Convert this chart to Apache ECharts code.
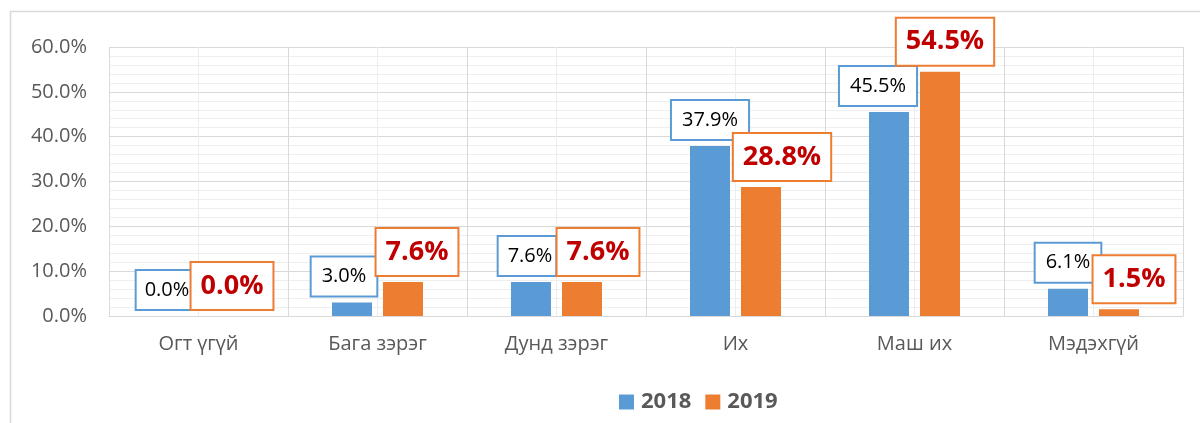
<!DOCTYPE html>
<html>
<head>
<meta charset="utf-8">
<script src="https://cdn.jsdelivr.net/npm/echarts@6/dist/echarts.min.js"></script>
<style>
  html, body { margin: 0; padding: 0; background: #fff; }
  #chart { width: 1200px; height: 423px; }
</style>
</head>
<body>
<div id="chart"></div>
<script>
// ---------- data ----------
const categories = ['Огт үгүй', 'Бага зэрэг', 'Дунд зэрэг', 'Их', 'Маш их', 'Мэдэхгүй'];
const values2018 = [0.0, 3.0, 7.6, 37.9, 45.5, 6.1];
const values2019 = [0.0, 7.6, 7.6, 28.8, 54.5, 1.5];
const yMin = 0, yMax = 60, yStep = 10;

// label nudges (Excel labels were dragged by hand)
const nudge2018 = [-9, -8, -4, 0, -11, 0];
const nudge2019 = [8, 14, 16, 21, 5, 15];
const pad2018 = [[8, 2, 8, 8], null, [8, 3, 8, 9], null, null, null];

const FONT = 'Open Sans';
const BLUE = '#5B9BD5';
const ORANGE = '#ED7D31';

function buildItems(vals, nudges, pads) {
    return vals.map(function(v, i) {
        const label = { offset: [nudges[i], 0] };
        if (pads && pads[i]) label.padding = pads[i];
        return { value: v, label: label };
    });
}

const chart = echarts.init(document.getElementById('chart'));

const option = {
    animation: false,
    backgroundColor: '#fff',
    textStyle: { fontFamily: FONT },
    graphic: [{
        type: 'rect',
        z: -10,
        shape: { x: 10.5, y: 11.5, width: 1200, height: 430 },
        style: { fill: 'none', stroke: '#d9d9d9', lineWidth: 1.5 }
    }],
    grid: { left: 109, right: 17, top: 47, bottom: 107, containLabel: false },
    legend: {
        data: ['2018', '2019'],
        left: 614,
        top: 386,
        icon: 'rect',
        itemWidth: 15,
        itemHeight: 15,
        itemGap: 14,
        textStyle: { fontFamily: FONT, fontSize: 22, fontWeight: 'bold', color: '#595959', padding: [0, 0, 0, 2] }
    },
    xAxis: [{
        type: 'category',
        data: categories,
        axisLine: { lineStyle: { color: '#d9d9d9', width: 1 } },
        axisTick: { show: false },
        axisLabel: { color: '#595959', fontSize: 20, margin: 18, fontFamily: FONT },
        splitLine: { show: false }
    }, {
        type: 'value',
        min: 0, max: categories.length, interval: 1,
        position: 'top',
        axisLine: { show: false },
        axisTick: { show: false },
        axisLabel: { show: false },
        splitLine: { show: true, lineStyle: { color: '#d9d9d9' } },
        minorTick: { show: false, splitNumber: 2 },
        minorSplitLine: { show: true, lineStyle: { color: '#ededed' } }
    }],
    yAxis: {
        type: 'value',
        min: yMin, max: yMax, interval: yStep,
        axisLine: { show: false },
        axisTick: { show: false },
        axisLabel: {
            color: '#595959', fontSize: 20, margin: 22, fontFamily: FONT,
            formatter: function(v) { return v.toFixed(1) + '%'; }
        },
        splitLine: { lineStyle: { color: '#d9d9d9' } },
        minorTick: { show: false, splitNumber: 5 },
        minorSplitLine: { show: true, lineStyle: { color: '#efefef' } }
    },
    series: [{
        name: '2018',
        type: 'bar',
        xAxisIndex: 0,
        barWidth: 40,
        barGap: '27.5%',
        itemStyle: { color: BLUE },
        label: {
            show: true,
            position: 'top',
            distance: 7,
            formatter: function(p) { return p.value.toFixed(1) + '%'; },
            color: '#000',
            fontFamily: FONT,
            fontSize: 20,
            lineHeight: 22,
            backgroundColor: '#fff',
            borderColor: BLUE,
            borderWidth: 2,
            padding: [8, 10]
        },
        data: buildItems(values2018, nudge2018, pad2018)
    }, {
        name: '2019',
        type: 'bar',
        xAxisIndex: 0,
        barWidth: 40,
        barGap: '27.5%',
        itemStyle: { color: ORANGE },
        label: {
            show: true,
            position: 'top',
            distance: 7,
            formatter: function(p) { return p.value.toFixed(1) + '%'; },
            color: '#C00000',
            fontFamily: FONT,
            fontSize: 27,
            fontWeight: 'bold',
            lineHeight: 30,
            backgroundColor: '#fff',
            borderColor: ORANGE,
            borderWidth: 2,
            padding: [8, 9]
        },
        data: buildItems(values2019, nudge2019)
    }]
};

chart.setOption(option);
</script>
</body>
</html>
